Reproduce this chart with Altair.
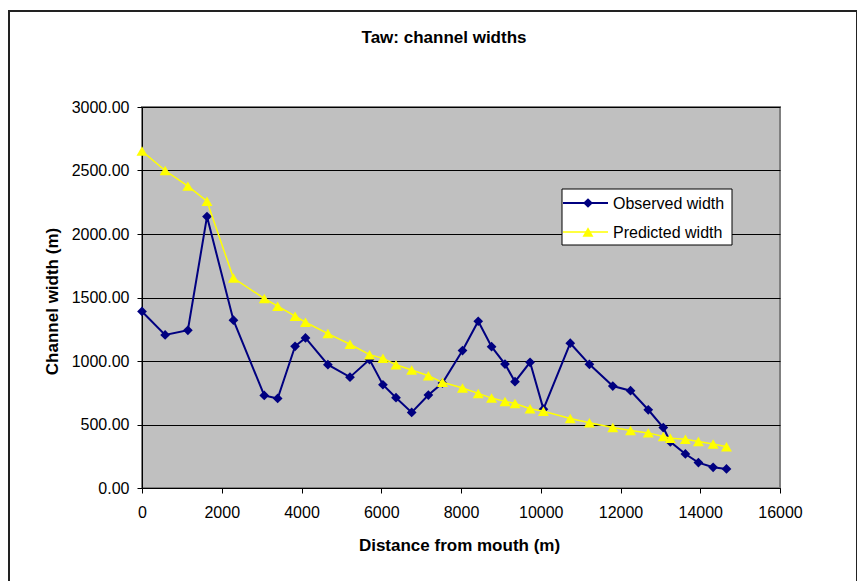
import altair as alt
import pandas as pd

# ---- data ----
distance = [0, 580, 1150, 1630, 2293, 3066, 3402, 3839, 4100, 4662, 5216, 5706,
            6042, 6370, 6763, 7182, 7535, 8038, 8432, 8767, 9103, 9354, 9732,
            10067, 10740, 11220, 11807, 12252, 12696, 13073, 13250, 13627,
            13954, 14323, 14658]
observed = [1390, 1205, 1242, 2137, 1321, 729, 705, 1116, 1182, 971, 873, 1011,
            813, 711, 595, 732, 826, 1082, 1313, 1113, 976, 837, 990,
            621, 1140, 974, 803, 766, 616, 476, 363, 268,
            200, 163, 150]
predicted = [2653, 2500, 2377, 2258, 1653, 1492, 1432, 1353, 1305, 1216, 1132, 1050,
             1021, 971, 929, 884, 832, 787, 745, 708, 682, 666, 624,
             605, 547, 513, 476, 453, 434, 405, 392, 384,
             366, 347, 324]
series_names = ["Observed width", "Predicted width"]
series_colors = ["#000080", "#FFFF00"]
x_ticks = [0, 2000, 4000, 6000, 8000, 10000, 12000, 14000, 16000]
y_ticks = [0, 500, 1000, 1500, 2000, 2500, 3000]
chart_title = "Taw: channel widths"
x_title = "Distance from mouth (m)"
y_title = "Channel width (m)"

n = len(distance)
df = pd.DataFrame({
    "distance": distance * 2,
    "width": observed + predicted,
    "series": [series_names[0]] * n + [series_names[1]] * n,
    "order": list(range(n)) * 2,
})

FONT = "Liberation Sans"

xenc = alt.X("distance:Q",
             scale=alt.Scale(domain=[0, 16000], nice=False, zero=False),
             axis=alt.Axis(values=x_ticks, format="d", title=x_title, grid=False,
                           tickSize=5, labelPadding=11, labelFlush=False,
                           titleX=317, titleY=62,
                           titleBaseline="alphabetic", titleAlign="center",
                           titleFontSize=17))
yenc = alt.Y("width:Q",
             scale=alt.Scale(domain=[0, 3000], nice=False),
             axis=alt.Axis(values=y_ticks, format=".2f", title=y_title, grid=True,
                           tickSize=5, labelPadding=8, labelFlush=False,
                           titleX=-85, titleY=194,
                           titleBaseline="alphabetic", titleAlign="center",
                           titleFontSize=17))
cenc = alt.Color("series:N", scale=alt.Scale(domain=series_names, range=series_colors),
                 legend=None)

base = alt.Chart(df)

obs_line = base.transform_filter(alt.datum.series == series_names[0]).mark_line(
    strokeWidth=2).encode(x=xenc, y=yenc, color=cenc, order="order:Q")
obs_pts = base.transform_filter(alt.datum.series == series_names[0]).mark_point(
    shape="diamond", filled=True, size=95, opacity=1).encode(x="distance:Q", y="width:Q", color=cenc)
pred_line = base.transform_filter(alt.datum.series == series_names[1]).mark_line(
    strokeWidth=1.5).encode(x="distance:Q", y="width:Q", color=cenc, order="order:Q")
pred_pts = base.transform_filter(alt.datum.series == series_names[1]).mark_point(
    shape="triangle-up", filled=True, size=120, opacity=1).encode(x="distance:Q", y="width:Q", color=cenc)

one = pd.DataFrame({"k": [0]})
ann = alt.Chart(one)

outer = ann.mark_rect(fillOpacity=0, stroke="#222222", strokeWidth=2).encode(
    x=alt.value(-133), x2=alt.value(715), y=alt.value(-96), y2=alt.value(500))
title = ann.mark_text(text=chart_title, font=FONT, fontSize=17, fontWeight="bold",
                      align="center", baseline="alphabetic", color="black").encode(
    x=alt.value(302), y=alt.value(-64))

# legend box
leg_box = ann.mark_rect(fill="white", stroke="black", strokeWidth=1).encode(
    x=alt.value(420), x2=alt.value(590), y=alt.value(82), y2=alt.value(138))
leg_layers = []
for i, (name, col, shp, sz, sw) in enumerate(zip(series_names, series_colors,
                                                  ["diamond", "triangle-up"], [95, 120], [2, 1.5])):
    yy = 96 + 29 * i
    leg_layers.append(ann.mark_rule(color=col, strokeWidth=sw).encode(
        x=alt.value(421), x2=alt.value(466), y=alt.value(yy)))
    leg_layers.append(ann.mark_point(shape=shp, filled=True, size=sz, color=col, opacity=1).encode(
        x=alt.value(446), y=alt.value(yy)))
    leg_layers.append(ann.mark_text(text=name, font=FONT, fontSize=16, align="left",
                                    baseline="middle", color="black").encode(
        x=alt.value(471), y=alt.value(yy + 1)))

chart = alt.layer(outer, title, obs_line, obs_pts, pred_line, pred_pts, leg_box, *leg_layers).properties(
    width=638, height=381,
    autosize=alt.AutoSizeParams(type="none"),
    padding={"left": 134, "top": 99, "right": 77, "bottom": 93},
    background="white",
).configure_view(
    fill="#C0C0C0", stroke="#808080", strokeWidth=2
).configure_axis(
    labelFont=FONT, labelFontSize=16, labelColor="black",
    titleFont=FONT, titleFontWeight="bold", titleColor="black",
    domainColor="black", domainWidth=1, tickColor="black", tickWidth=1,
    gridColor="black", gridWidth=1, gridOpacity=1,
)

chart.save("out.html", embed_options={"renderer": "svg", "actions": False})
